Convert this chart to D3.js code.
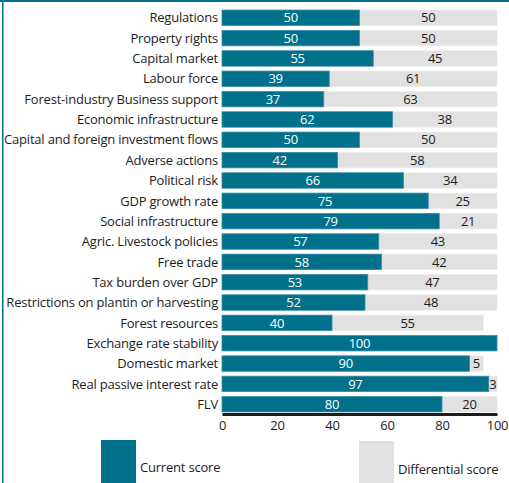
<!DOCTYPE html>
<html lang="en">

<head>
    <meta charset="UTF-8">
    <title>Scores</title>
    <style>
        body {
            margin: 0;
            background-color: white;
        }

        svg {
            display: block;
            font-family: 'Open Sans', sans-serif;
            letter-spacing: -0.2px;
        }
    </style>
</head>

<body>
    <script src="https://d3js.org/d3.v7.min.js"></script>
    <script>
        {
            // data
            let categories = [
                'Regulations', 'Property rights', 'Capital market', 'Labour force',
                'Forest-industry Business support', 'Economic infrastructure',
                'Capital and foreign investment flows', 'Adverse actions', 'Political risk',
                'GDP growth rate', 'Social infrastructure', 'Agric. Livestock policies',
                'Free trade', 'Tax burden over GDP', 'Restrictions on plantin or harvesting',
                'Forest resources', 'Exchange rate stability', 'Domestic market',
                'Real passive interest rate', 'FLV'
            ];
            let currentScore = [50, 50, 55, 39, 37, 62, 50, 42, 66, 75, 79, 57, 58, 53, 52, 40, 100, 90, 97, 80];
            let differentialScore = [50, 50, 45, 61, 63, 38, 50, 58, 34, 25, 21, 43, 42, 47, 48, 55, 0, 5, 3, 20];
            let xTicks = [0, 20, 40, 60, 80, 100];
            let legendLabels = ['Current score', 'Differential score'];

            let teal = '#01708b';
            let grey = '#e1e1e1';
            let ink = '#1e1c1d';
            let fontSize = 13;

            let width = 509, height = 483;
            let margin = { top: 8, right: 12, bottom: 69, left: 222 };

            let svg = d3.select('body')
                .append('svg')
                .attr('width', width)
                .attr('height', height);

            // frame
            svg.append('rect').attr('x', 0).attr('y', 0).attr('width', width).attr('height', 2).attr('fill', teal);
            svg.append('rect').attr('x', 2).attr('y', 0).attr('width', 1.5).attr('height', height).attr('fill', teal);

            let x = d3.scaleLinear().domain([0, 100]).range([margin.left, width - margin.right]);
            let y = d3.scaleBand().domain(categories).range([margin.top, height - margin.bottom]).paddingInner(0.24).paddingOuter(0.1);

            let rows = categories.map((c, i) => ({ name: c, cur: currentScore[i], diff: differentialScore[i] }));

            let g = svg.append('g');

            // grey (differential) segments
            g.selectAll('rect.diff')
                .data(rows.filter(d => d.diff > 0))
                .enter().append('rect')
                .attr('class', 'diff')
                .attr('x', d => x(d.cur))
                .attr('y', d => y(d.name))
                .attr('width', d => x(d.cur + d.diff) - x(d.cur))
                .attr('height', y.bandwidth())
                .attr('fill', grey)
                .attr('stroke', '#ececec')
                .attr('stroke-width', 0.8);

            // teal (current) segments
            g.selectAll('rect.cur')
                .data(rows)
                .enter().append('rect')
                .attr('class', 'cur')
                .attr('x', x(0))
                .attr('y', d => y(d.name))
                .attr('width', d => x(d.cur) - x(0))
                .attr('height', y.bandwidth())
                .attr('fill', teal)
                .attr('stroke', '#3a8da3')
                .attr('stroke-width', 0.8);

            g.selectAll('text.cur')
                .data(rows)
                .enter().append('text')
                .attr('class', 'cur')
                .attr('x', d => (x(0) + x(d.cur)) / 2)
                .attr('y', d => y(d.name) + y.bandwidth() / 2)
                .attr('dy', '0.36em')
                .attr('text-anchor', 'middle')
                .attr('fill', 'white')
                .attr('font-size', fontSize)
                .text(d => d.cur);

            g.selectAll('text.diff')
                .data(rows.filter(d => d.diff > 0))
                .enter().append('text')
                .attr('class', 'diff')
                .attr('x', d => (x(d.cur) + x(d.cur + d.diff)) / 2)
                .attr('y', d => y(d.name) + y.bandwidth() / 2)
                .attr('dy', '0.36em')
                .attr('text-anchor', 'middle')
                .attr('fill', ink)
                .attr('font-size', fontSize)
                .text(d => d.diff);

            // category labels
            g.selectAll('text.cat')
                .data(rows)
                .enter().append('text')
                .attr('class', 'cat')
                .attr('x', margin.left - 4)
                .attr('y', d => y(d.name) + y.bandwidth() / 2)
                .attr('dy', '0.36em')
                .attr('text-anchor', 'end')
                .attr('fill', ink)
                .attr('font-size', fontSize)
                .text(d => d.name);

            // x axis
            let axisY = y(categories[categories.length - 1]) + y.bandwidth() + 2;
            let axis = svg.append('g')
                .attr('transform', `translate(0,${axisY})`)
                .call(d3.axisBottom(x).tickValues(xTicks).tickSize(0).tickPadding(7));
            axis.select('.domain').attr('stroke', ink).attr('stroke-width', 3);
            axis.selectAll('text').attr('font-size', fontSize).attr('fill', ink).attr('font-family', 'Open Sans, sans-serif');

            // legend
            let legend = svg.append('g');
            let legendItems = [
                { label: legendLabels[0], color: teal, x: 101, y: 440, ty: 467 },
                { label: legendLabels[1], color: grey, x: 359, y: 441, ty: 469 }
            ];
            legend.selectAll('rect')
                .data(legendItems)
                .enter().append('rect')
                .attr('x', d => d.x)
                .attr('y', d => d.y)
                .attr('width', 35)
                .attr('height', 45)
                .attr('fill', d => d.color);
            legend.selectAll('text')
                .data(legendItems)
                .enter().append('text')
                .attr('x', d => d.x + 39)
                .attr('y', d => d.ty)
                .attr('dy', '0.36em')
                .attr('fill', ink)
                .attr('font-size', fontSize)
                .text(d => d.label);
        }
    </script>
</body>

</html>
